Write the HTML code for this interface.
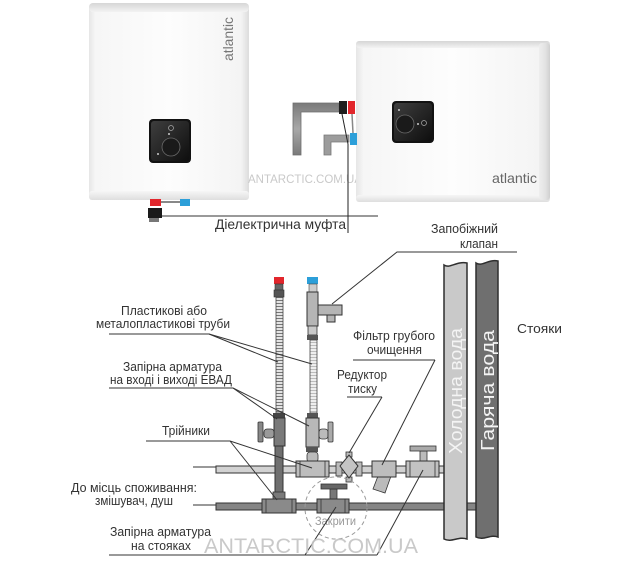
<!DOCTYPE html>
<html><head><meta charset="utf-8">
<style>
html,body{margin:0;padding:0;background:#fff;}
svg{display:block;}
text{font-family:"Liberation Sans","DejaVu Sans",sans-serif;}
</style></head><body>
<svg width="640" height="562" viewBox="0 0 640 562" xmlns="http://www.w3.org/2000/svg">
<defs>
 <linearGradient id="hl" x1="0" y1="0" x2="1" y2="0">
   <stop offset="0" stop-color="#e6e6e6"/>
   <stop offset="0.04" stop-color="#f6f6f6"/>
   <stop offset="0.5" stop-color="#fdfdfd"/>
   <stop offset="0.95" stop-color="#f4f4f4"/>
   <stop offset="1" stop-color="#dcdcdc"/>
 </linearGradient>
 <linearGradient id="topg" x1="0" y1="0" x2="0" y2="1">
   <stop offset="0" stop-color="#d6d6d6"/>
   <stop offset="1" stop-color="#f3f3f3"/>
 </linearGradient>
 <linearGradient id="botg" x1="0" y1="0" x2="0" y2="1">
   <stop offset="0" stop-color="#f6f6f6"/>
   <stop offset="1" stop-color="#dedede"/>
 </linearGradient>
 <linearGradient id="sideg" x1="0" y1="0" x2="1" y2="0">
   <stop offset="0" stop-color="#eeeeee"/>
   <stop offset="0.6" stop-color="#e2e2e2"/>
   <stop offset="1" stop-color="#cfcfcf"/>
 </linearGradient>
 <linearGradient id="panel" x1="0" y1="0" x2="1" y2="1">
   <stop offset="0" stop-color="#3e3e3e"/>
   <stop offset="1" stop-color="#0e0e0e"/>
 </linearGradient>
 <linearGradient id="pipeg" x1="0" y1="0" x2="0" y2="1">
   <stop offset="0" stop-color="#7a7a7a"/>
   <stop offset="0.5" stop-color="#a8a8a8"/>
   <stop offset="1" stop-color="#7a7a7a"/>
 </linearGradient>
 <linearGradient id="pipegv" x1="0" y1="0" x2="1" y2="0">
   <stop offset="0" stop-color="#7a7a7a"/>
   <stop offset="0.5" stop-color="#a8a8a8"/>
   <stop offset="1" stop-color="#7a7a7a"/>
 </linearGradient>
 <pattern id="corr" width="8" height="3" patternUnits="userSpaceOnUse">
   <rect width="8" height="3" fill="#e4e4e4"/>
   <rect width="8" height="1" fill="#777"/>
 </pattern>
 <pattern id="corr2" width="8" height="3" patternUnits="userSpaceOnUse">
   <rect width="8" height="3" fill="#eeeeee"/>
   <rect width="8" height="1" fill="#bbb"/>
 </pattern>
</defs>

<!-- ===== Top-left heater ===== -->
<rect x="89" y="3" width="160" height="197" rx="5" fill="url(#hl)"/>
<rect x="89" y="3" width="160" height="9" rx="4" fill="url(#topg)"/>
<rect x="89" y="191" width="160" height="9" rx="3" fill="url(#botg)"/>
<text transform="translate(233,61) rotate(-90)" font-size="14" fill="#777" textLength="44" lengthAdjust="spacingAndGlyphs">atlantic</text>
<rect x="149" y="119" width="42" height="44" rx="4" fill="#121212"/>
<rect x="151" y="121" width="38" height="40" rx="3" fill="url(#panel)"/>
<circle cx="171" cy="147" r="9" fill="#1a1a1a" stroke="#6a6a6a" stroke-width="0.8"/>
<circle cx="171" cy="128" r="2.5" fill="none" stroke="#aaa" stroke-width="0.7"/>
<circle cx="169" cy="134" r="1" fill="#ccc"/>
<circle cx="158" cy="154" r="1" fill="#ccc"/>
<!-- connectors -->
<rect x="161" y="201" width="19" height="2" fill="#888"/>
<rect x="150" y="199" width="11" height="7" fill="#e2262c"/>
<rect x="180" y="199" width="10" height="7" fill="#2c9fd9"/>
<rect x="148" y="208" width="14" height="10" fill="#1a1a1a"/>
<rect x="149" y="218" width="10" height="4" fill="#777"/>

<text x="248" y="183" font-size="11.5" fill="#c9c9c9" textLength="114" lengthAdjust="spacingAndGlyphs">ANTARCTIC.COM.UA</text>

<!-- ===== Top-right heater ===== -->
<rect x="356" y="41" width="194" height="161" rx="5" fill="url(#hl)"/>
<rect x="356" y="41" width="194" height="7" rx="3" fill="url(#topg)"/>
<rect x="356" y="195" width="194" height="7" rx="3" fill="url(#botg)"/>
<rect x="539" y="43" width="11" height="157" rx="3" fill="url(#sideg)"/>
<rect x="392" y="101" width="42" height="42" rx="4" fill="#121212"/>
<rect x="394" y="103" width="38" height="38" rx="3" fill="url(#panel)"/>
<circle cx="405" cy="124" r="9" fill="#1a1a1a" stroke="#6a6a6a" stroke-width="0.8"/>
<circle cx="399" cy="110" r="1" fill="#ccc"/>
<circle cx="424" cy="123" r="2.5" fill="none" stroke="#aaa" stroke-width="0.7"/>
<circle cx="418" cy="124" r="1" fill="#ccc"/>
<text x="492" y="183" font-size="14" fill="#666" textLength="45" lengthAdjust="spacingAndGlyphs">atlantic</text>

<!-- pipes near right heater -->
<polygon points="293,103 339,103 339,112 301,112 301,155 293,155" fill="url(#pipeg)" stroke="#6e6e6e" stroke-width="0.8"/>
<polygon points="324,135 349,135 349,142 331,142 331,155 324,155" fill="#9c9c9c" stroke="#777" stroke-width="0.8"/>
<rect x="339" y="101" width="8" height="13" fill="#1e1e1e"/>
<rect x="348" y="101" width="7" height="13" fill="#e2262c"/>
<line x1="352" y1="114" x2="353" y2="133" stroke="#888" stroke-width="1.5"/>
<rect x="350" y="133" width="7" height="12" fill="#2c9fd9"/>

<!-- dielectric label lines -->
<line x1="162" y1="216" x2="378" y2="216" stroke="#333" stroke-width="1"/>
<line x1="348" y1="144" x2="348" y2="233" stroke="#222" stroke-width="1"/>
<line x1="348" y1="144" x2="342" y2="114" stroke="#222" stroke-width="1"/>
<text x="215" y="229" font-size="14" fill="#333" textLength="131" lengthAdjust="spacingAndGlyphs">Діелектрична муфта</text>

<!-- ===== Bottom diagram ===== -->
<!-- horizontal pipes -->
<rect x="216" y="503" width="260" height="7" fill="#858585" stroke="#333" stroke-width="1"/>
<rect x="216" y="466" width="228" height="7" fill="#d2d2d2" stroke="#333" stroke-width="1"/>

<!-- risers -->
<path d="M444,265 C450,269 456,261 467,263 L467,539 C458,536 452,543 444,539 Z" fill="#c9c9c9" stroke="#2e2e2e" stroke-width="1.5"/>
<path d="M476,263 C482,267 488,259 498,261 L498,537 C490,534 484,541 476,537 Z" fill="#6f6f6f" stroke="#2e2e2e" stroke-width="1.5"/>
<text transform="translate(462,454) rotate(-90)" font-size="18" fill="#f4f4f4" textLength="126" lengthAdjust="spacingAndGlyphs">Холодна вода</text>
<text transform="translate(494,451) rotate(-90)" font-size="18" fill="#f4f4f4" textLength="121" lengthAdjust="spacingAndGlyphs">Гаряча вода</text>

<!-- hot vertical line -->
<rect x="274" y="277" width="10" height="7" fill="#e2262c"/>
<rect x="275" y="284" width="8" height="6" fill="#666" stroke="#333" stroke-width="0.6"/>
<rect x="274" y="290" width="10" height="7" fill="#555" stroke="#333" stroke-width="0.6"/>
<rect x="276" y="297" width="7" height="116" fill="url(#corr)" stroke="#444" stroke-width="0.8"/>
<rect x="273" y="413" width="12" height="5" fill="#444"/>
<rect x="274" y="418" width="11" height="28" fill="#7a7a7a" stroke="#333" stroke-width="1"/>
<rect x="264" y="429" width="10" height="9" rx="3" fill="#9a9a9a" stroke="#333" stroke-width="0.8"/>
<rect x="258" y="422" width="5" height="20" rx="1" fill="#888" stroke="#333" stroke-width="0.8"/>
<rect x="275" y="446" width="8" height="54" fill="#6f6f6f" stroke="#333" stroke-width="1"/>

<!-- cold vertical line -->
<rect x="307" y="277" width="11" height="7" fill="#2c9fd9"/>
<rect x="309" y="284" width="8" height="8" fill="#ccc" stroke="#444" stroke-width="0.6"/>
<rect x="307" y="292" width="11" height="34" fill="#b5b5b5" stroke="#333" stroke-width="1"/>
<rect x="318" y="305" width="24" height="10" fill="#b5b5b5" stroke="#333" stroke-width="1"/>
<rect x="327" y="315" width="8" height="7" fill="#b5b5b5" stroke="#333" stroke-width="1"/>
<rect x="308" y="326" width="9" height="9" fill="#c9c9c9" stroke="#333" stroke-width="0.8"/>
<rect x="307" y="335" width="11" height="5" fill="#555"/>
<rect x="310" y="340" width="7" height="73" fill="url(#corr2)" stroke="#444" stroke-width="0.8"/>
<rect x="307" y="413" width="11" height="5" fill="#555"/>
<rect x="306" y="418" width="13" height="29" fill="#b8b8b8" stroke="#333" stroke-width="1"/>
<rect x="319" y="429" width="9" height="10" rx="3" fill="#bbb" stroke="#333" stroke-width="0.8"/>
<rect x="328" y="422" width="5" height="20" rx="1" fill="#aaa" stroke="#333" stroke-width="0.8"/>
<rect x="306" y="447" width="12" height="5" fill="#555"/>
<rect x="307" y="452" width="11" height="10" rx="3" fill="#bbb" stroke="#333" stroke-width="0.8"/>

<!-- upper fittings -->
<rect x="296" y="461" width="33" height="16" fill="#bdbdbd" stroke="#333" stroke-width="1"/>
<line x1="300" y1="461" x2="300" y2="477" stroke="#333" stroke-width="0.8"/>
<line x1="325" y1="461" x2="325" y2="477" stroke="#333" stroke-width="0.8"/>
<!-- reducer -->
<rect x="336" y="462" width="6" height="14" fill="#bbb" stroke="#333" stroke-width="0.8"/>
<rect x="356" y="462" width="6" height="14" fill="#bbb" stroke="#333" stroke-width="0.8"/>
<rect x="346" y="452" width="6" height="5" fill="#bbb" stroke="#333" stroke-width="0.8"/>
<rect x="346" y="477" width="6" height="5" fill="#bbb" stroke="#333" stroke-width="0.8"/>
<polygon points="349,455 358,466 349,478 340,466" fill="#c4c4c4" stroke="#333" stroke-width="1"/>
<!-- filter -->
<polygon points="378,476 391,476 385,493 373,489" fill="#bbb" stroke="#333" stroke-width="0.8"/>
<rect x="372" y="461" width="24" height="16" fill="#bdbdbd" stroke="#333" stroke-width="1"/>
<!-- upper valve -->
<rect x="420" y="451" width="7" height="10" fill="#bbb" stroke="#333" stroke-width="0.8"/>
<rect x="410" y="446" width="26" height="5" fill="#aaa" stroke="#333" stroke-width="0.8"/>
<rect x="406" y="461" width="33" height="16" fill="#c2c2c2" stroke="#333" stroke-width="1"/>
<line x1="410" y1="461" x2="410" y2="477" stroke="#333" stroke-width="0.8"/>
<line x1="435" y1="461" x2="435" y2="477" stroke="#333" stroke-width="0.8"/>

<!-- lower fittings -->
<rect x="273" y="492" width="12" height="8" fill="#7a7a7a" stroke="#333" stroke-width="0.8"/>
<rect x="262" y="499" width="34" height="14" fill="#8a8a8a" stroke="#333" stroke-width="1"/>
<line x1="266" y1="499" x2="266" y2="513" stroke="#333" stroke-width="0.8"/>
<line x1="292" y1="499" x2="292" y2="513" stroke="#333" stroke-width="0.8"/>
<rect x="330" y="489" width="7" height="10" fill="#777" stroke="#333" stroke-width="0.8"/>
<rect x="321" y="484" width="26" height="5" fill="#666" stroke="#333" stroke-width="0.8"/>
<rect x="317" y="499" width="32" height="14" fill="#8a8a8a" stroke="#333" stroke-width="1"/>
<line x1="321" y1="499" x2="321" y2="513" stroke="#333" stroke-width="0.8"/>
<line x1="345" y1="499" x2="345" y2="513" stroke="#333" stroke-width="0.8"/>

<circle cx="336" cy="508" r="31" fill="none" stroke="#9a9a9a" stroke-width="1" stroke-dasharray="4 3"/>
<text x="315" y="525" font-size="12" fill="#999" textLength="41" lengthAdjust="spacingAndGlyphs">Закрити</text>

<!-- ===== Labels & pointer lines ===== -->
<g stroke="#333" stroke-width="1" fill="none">
 <polyline points="517,252 397,252 332,304"/>
 <line x1="109" y1="334" x2="209" y2="334"/>
 <line x1="209" y1="334" x2="278" y2="362"/>
 <line x1="209" y1="334" x2="312" y2="364"/>
 <line x1="109" y1="388" x2="233" y2="388"/>
 <line x1="233" y1="388" x2="277" y2="419"/>
 <line x1="233" y1="388" x2="309" y2="426"/>
 <line x1="146" y1="441" x2="230" y2="441"/>
 <line x1="230" y1="441" x2="312" y2="468"/>
 <line x1="230" y1="441" x2="277" y2="500"/>
 <line x1="193" y1="467" x2="216" y2="467"/>
 <line x1="193" y1="505" x2="216" y2="505"/>
 <line x1="109" y1="555" x2="377" y2="555"/>
 <line x1="305" y1="555" x2="336" y2="507"/>
 <line x1="377" y1="555" x2="423" y2="470"/>
 <line x1="353" y1="360" x2="435" y2="360"/>
 <line x1="435" y1="360" x2="382" y2="465"/>
 <line x1="347" y1="397" x2="382" y2="397"/>
 <line x1="382" y1="397" x2="349" y2="453"/>
</g>

<g fill="#333" font-size="13">
 <text x="431" y="233" textLength="67" lengthAdjust="spacingAndGlyphs">Запобіжний</text>
 <text x="460" y="248" textLength="38" lengthAdjust="spacingAndGlyphs">клапан</text>
 <text x="517" y="333" textLength="45" lengthAdjust="spacingAndGlyphs">Стояки</text>
 <text x="121" y="315" textLength="86" lengthAdjust="spacingAndGlyphs">Пластикові або</text>
 <text x="96" y="328" textLength="134" lengthAdjust="spacingAndGlyphs">металопластикові труби</text>
 <text x="123" y="371" textLength="99" lengthAdjust="spacingAndGlyphs">Запірна арматура</text>
 <text x="110" y="384" textLength="122" lengthAdjust="spacingAndGlyphs">на вході і виході ЕВАД</text>
 <text x="162" y="435" textLength="48" lengthAdjust="spacingAndGlyphs">Трійники</text>
 <text x="71" y="492" textLength="126" lengthAdjust="spacingAndGlyphs">До місць споживання:</text>
 <text x="95" y="505" textLength="78" lengthAdjust="spacingAndGlyphs">змішувач, душ</text>
 <text x="110" y="536" textLength="101" lengthAdjust="spacingAndGlyphs">Запірна арматура</text>
 <text x="131" y="550" textLength="60" lengthAdjust="spacingAndGlyphs">на стояках</text>
 <text x="353" y="340" textLength="82" lengthAdjust="spacingAndGlyphs">Фільтр грубого</text>
 <text x="367" y="354" textLength="55" lengthAdjust="spacingAndGlyphs">очищення</text>
 <text x="337" y="379" textLength="50" lengthAdjust="spacingAndGlyphs">Редуктор</text>
 <text x="348" y="393" textLength="29" lengthAdjust="spacingAndGlyphs">тиску</text>
</g>

<text x="204" y="553" font-size="21" fill="#c4c4c4" fill-opacity="0.92" textLength="214" lengthAdjust="spacingAndGlyphs">ANTARCTIC.COM.UA</text>
</svg>
</body></html>
